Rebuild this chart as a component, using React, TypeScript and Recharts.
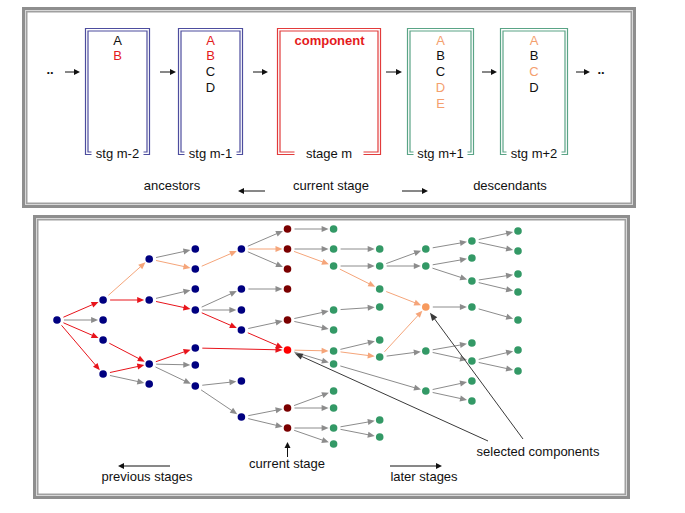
import React from 'react';
import { ScatterChart, Scatter, XAxis, YAxis, ReferenceLine, ReferenceArea, ReferenceDot } from 'recharts';

const FONT = '"Liberation Sans", Arial, Helvetica, sans-serif';
const W = 685;
const H = 513;

// upper panel: one box per stage
const stageNames = ['stg m-2', 'stg m-1', 'stage m', 'stg m+1', 'stg m+2'];
const stageRoles = ['anc', 'anc', 'cur', 'des', 'des'];
const stageComponents = [['A', 'B'], ['A', 'B', 'C', 'D'], ['component'], ['A', 'B', 'C', 'D', 'E'], ['A', 'B', 'C', 'D']];
const stageSelected = [[1], [0, 1], [0], [0, 3, 4], [0, 2]];
const upperCaptions = ['ancestors', 'current stage', 'descendants'];

// lower panel: y of every component, one list per stage (column)
const stageRows: number[][] = [
  [320],
  [300, 320, 340, 374],
  [259, 300, 364, 384],
  [249, 269, 289, 310, 348, 365, 386],
  [249, 289, 310, 330, 381, 417],
  [229, 249, 269, 289, 320, 350, 408, 428],
  [229, 249, 266, 310, 330, 351, 364, 391, 408, 428, 444],
  [249, 266, 289, 307, 340, 357, 420, 437],
  [249, 266, 307, 351, 391],
  [241, 258, 281, 307, 343, 361, 381, 401],
  [231, 251, 274, 292, 320, 350, 371],
];
const currentStage = 5;
const currentComponent = 5;
const pickedStage = 8;
const pickedComponent = 2;

// [fromStage, fromIndex, toStage, toIndex, kind]  g = plain, r = ancestor path, o = descendant path
const links: [number, number, number, number, string][] = [
  [0, 0, 1, 0, 'r'], [0, 0, 1, 1, 'g'], [0, 0, 1, 2, 'r'], [0, 0, 1, 3, 'r'],
  [1, 0, 2, 0, 'o'], [1, 0, 2, 1, 'r'], [1, 2, 2, 2, 'r'], [1, 3, 2, 2, 'r'], [1, 3, 2, 3, 'g'],
  [2, 0, 3, 0, 'g'], [2, 0, 3, 1, 'o'], [2, 1, 3, 2, 'g'], [2, 1, 3, 3, 'r'],
  [2, 2, 3, 4, 'r'], [2, 2, 3, 5, 'g'], [2, 2, 3, 6, 'g'],
  [3, 1, 4, 0, 'o'], [3, 3, 4, 1, 'g'], [3, 3, 4, 2, 'g'], [3, 3, 4, 3, 'r'],
  [3, 6, 4, 4, 'g'], [3, 6, 4, 5, 'g'], [3, 4, 5, 5, 'r'],
  [4, 0, 5, 0, 'g'], [4, 0, 5, 1, 'o'], [4, 0, 5, 2, 'g'], [4, 1, 5, 3, 'g'],
  [4, 3, 5, 4, 'g'], [4, 3, 5, 5, 'r'], [4, 5, 5, 6, 'g'], [4, 5, 5, 7, 'g'],
  [5, 0, 6, 0, 'g'], [5, 1, 6, 1, 'g'], [5, 1, 6, 2, 'o'], [5, 4, 6, 3, 'g'], [5, 4, 6, 4, 'g'],
  [5, 5, 6, 5, 'o'], [5, 5, 6, 6, 'g'], [5, 6, 6, 7, 'g'], [5, 6, 6, 8, 'g'], [5, 7, 6, 9, 'g'], [5, 7, 6, 10, 'g'],
  [6, 1, 7, 0, 'g'], [6, 2, 7, 1, 'g'], [6, 2, 7, 2, 'o'], [6, 3, 7, 3, 'g'],
  [6, 5, 7, 4, 'g'], [6, 5, 7, 5, 'o'], [6, 9, 7, 6, 'g'], [6, 9, 7, 7, 'g'], [6, 6, 8, 4, 'g'],
  [7, 1, 8, 0, 'g'], [7, 1, 8, 1, 'g'], [7, 2, 8, 2, 'o'], [7, 5, 8, 2, 'o'], [7, 5, 8, 3, 'g'],
  [8, 0, 9, 0, 'g'], [8, 1, 9, 1, 'g'], [8, 1, 9, 2, 'g'], [8, 2, 9, 3, 'g'],
  [8, 3, 9, 4, 'g'], [8, 3, 9, 5, 'g'], [8, 4, 9, 6, 'g'], [8, 4, 9, 7, 'g'],
  [9, 0, 10, 0, 'g'], [9, 0, 10, 1, 'g'], [9, 2, 10, 2, 'g'], [9, 2, 10, 3, 'g'],
  [9, 3, 10, 4, 'g'], [9, 5, 10, 5, 'g'], [9, 5, 10, 6, 'g'],
];
const lowerCaptions = ['previous stages', 'current stage', 'later stages', 'selected components'];

const NODE_COLORS: Record<string, string> = { anc: '#000080', cur: '#7a0000', sel: '#ff0000', des: '#339966', pick: '#f79a5e' };
const LINK_COLORS: Record<string, string> = { g: '#8c8c8c', r: '#e8141b', o: '#f5a57a' };
const BOX_COLORS: Record<string, string> = { anc: '#4d4d9e', cur: '#e23b3b', des: '#5aa486' };
const MARK_COLORS: Record<string, string> = { anc: '#e41a1c', cur: '#e41a1c', des: '#f4a06e' };

// stage axis calibration (column 0 at 57px, 46.1px apart)
const STAGE_X0 = 57;
const STAGE_DX = 46.1;
const pxToStage = (px: number) => (px - STAGE_X0) / STAGE_DX;

const BOX_LEFT = [85, 178, 277, 407, 500];
const BOX_RIGHT = [150, 243, 381, 474, 568];
const BOX_TAB = [6, 6, 17, 6, 6];

const kindOf = (stage: number, idx: number) => {
  if (stage === currentStage && idx === currentComponent) return 'sel';
  if (stage === pickedStage && idx === pickedComponent) return 'pick';
  if (stage < currentStage) return 'anc';
  if (stage === currentStage) return 'cur';
  return 'des';
};

const arrow = (color: string, cut0: number, cut1: number, head = 7, half = 3, width = 1) => (p: any) => {
  const { x1, y1, x2, y2 } = p;
  const dx = x2 - x1;
  const dy = y2 - y1;
  const len = Math.hypot(dx, dy) || 1;
  const ux = dx / len;
  const uy = dy / len;
  const sx = x1 + ux * cut0;
  const sy = y1 + uy * cut0;
  const tx = x2 - ux * cut1;
  const ty = y2 - uy * cut1;
  const bx = tx - ux * head;
  const by = ty - uy * head;
  return (
    <g>
      <line x1={sx} y1={sy} x2={bx + ux} y2={by + uy} stroke={color} strokeWidth={width} />
      <polygon
        points={`${tx},${ty} ${bx - uy * half},${by + ux * half} ${bx + uy * half},${by - ux * half}`}
        fill={color}
      />
    </g>
  );
};

const frameShape = (p: any) => {
  const { x, y, width: w, height: h } = p;
  return (
    <g fill="none">
      <rect x={x + 1.5} y={y + 1.5} width={w - 3} height={h - 3} stroke="#8e8e8e" strokeWidth={3} />
      <rect x={x + 3.5} y={y + 3.5} width={w - 7} height={h - 7} stroke="#d8d8d8" strokeWidth={1} />
      <rect x={x + 4.75} y={y + 4.75} width={w - 9.5} height={h - 9.5} stroke="#a0a0a0" strokeWidth={1.5} />
    </g>
  );
};

const bracketShape = (color: string, tab: number) => (p: any) => {
  const { x, y, width: w, height: h } = p;
  const l = x + 0.5;
  const r = x + w - 0.5;
  const t = y + 0.5;
  const b = y + h - 0.5;
  const g = 2.5;
  const outer = `M${l + tab},${b} L${l},${b} L${l},${t} L${r},${t} L${r},${b} L${r - tab},${b}`;
  const inner = `M${l + tab},${b - g} L${l + g},${b - g} L${l + g},${t + g} L${r - g},${t + g} L${r - g},${b - g} L${r - tab},${b - g}`;
  return (
    <g fill="none" stroke={color} strokeWidth={1.2}>
      <path d={outer} />
      <path d={inner} />
    </g>
  );
};

const textShape = (text: string, color = '#111', bold = false) => (p: any) => (
  <text x={p.cx} y={p.cy} textAnchor="middle" fill={color} fontSize={13} fontFamily={FONT} fontWeight={bold ? 'bold' : 'normal'}>
    {text}
  </text>
);

export default function App() {
  const nodes = stageRows.flatMap((rows, stage) => rows.map((y, idx) => ({ stage, y, idx, kind: kindOf(stage, idx) })));
  const kinds = ['anc', 'cur', 'sel', 'des', 'pick'];

  const topArrows: [number, number][] = [[65, 80], [160, 176], [253, 268], [386, 402], [482, 497], [576, 590]];

  return (
    <div style={{ position: 'absolute', left: 0, top: 0, width: W, height: H, background: '#fff' }}>
      <ScatterChart width={W} height={H} margin={{ top: 0, right: 0, bottom: 0, left: 0 }}>
        <XAxis xAxisId="px" type="number" dataKey="px" domain={[0, W]} allowDataOverflow hide />
        <XAxis
          xAxisId="stage"
          type="number"
          dataKey="stage"
          domain={[pxToStage(0), pxToStage(W)]}
          allowDataOverflow
          hide
        />
        <YAxis type="number" dataKey="y" domain={[0, H]} reversed allowDataOverflow hide />

        {/* panel frames */}
        <ReferenceArea xAxisId="px" x1={22} x2={636} y1={7} y2={208} ifOverflow="visible" shape={frameShape} />
        <ReferenceArea xAxisId="px" x1={33} x2={630} y1={215} y2={499} ifOverflow="visible" shape={frameShape} />

        {/* upper panel: stage boxes */}
        {stageNames.map((name, i) => (
          <ReferenceArea
            key={`box-${i}`}
            xAxisId="px"
            x1={BOX_LEFT[i]}
            x2={BOX_RIGHT[i]}
            y1={28}
            y2={155}
            ifOverflow="visible"
            shape={bracketShape(BOX_COLORS[stageRoles[i]], BOX_TAB[i])}
          />
        ))}
        {stageNames.map((name, i) => (
          <ReferenceDot
            key={`boxlabel-${i}`}
            xAxisId="px"
            x={(BOX_LEFT[i] + BOX_RIGHT[i]) / 2}
            y={158}
            ifOverflow="visible"
            shape={textShape(name)}
          />
        ))}
        {stageComponents.flatMap((items, i) =>
          items.map((item, j) => {
            const marked = stageSelected[i].includes(j);
            return (
              <ReferenceDot
                key={`item-${i}-${j}`}
                xAxisId="px"
                x={(BOX_LEFT[i] + BOX_RIGHT[i]) / 2 + (stageRoles[i] === 'cur' ? 0.5 : 0)}
                y={44.5 + 15.8 * j}
                ifOverflow="visible"
                shape={textShape(item, marked ? MARK_COLORS[stageRoles[i]] : '#111', stageRoles[i] === 'cur')}
              />
            );
          })
        )}
        {topArrows.map(([a, b], i) => (
          <ReferenceLine
            key={`ta-${i}`}
            xAxisId="px"
            segment={[{ x: a, y: 72 }, { x: b, y: 72 }]}
            ifOverflow="visible"
            shape={arrow('#111', 0, 0, 6, 3)}
          />
        ))}
        <ReferenceDot xAxisId="px" x={50} y={74} ifOverflow="visible" shape={textShape('..', '#111', true)} />
        <ReferenceDot xAxisId="px" x={601} y={74} ifOverflow="visible" shape={textShape('..', '#111', true)} />
        <ReferenceDot xAxisId="px" x={172} y={190} ifOverflow="visible" shape={textShape(upperCaptions[0])} />
        <ReferenceDot xAxisId="px" x={331} y={190} ifOverflow="visible" shape={textShape(upperCaptions[1])} />
        <ReferenceDot xAxisId="px" x={510} y={190} ifOverflow="visible" shape={textShape(upperCaptions[2])} />
        <ReferenceLine
          xAxisId="px"
          segment={[{ x: 265, y: 191 }, { x: 238, y: 191 }]}
          ifOverflow="visible"
          shape={arrow('#111', 0, 0, 6, 3)}
        />
        <ReferenceLine
          xAxisId="px"
          segment={[{ x: 402, y: 191 }, { x: 428, y: 191 }]}
          ifOverflow="visible"
          shape={arrow('#111', 0, 0, 6, 3)}
        />

        {/* lower panel: links between components */}
        {links.map(([s1, i1, s2, i2, k], i) => (
          <ReferenceLine
            key={`link-${i}`}
            xAxisId="stage"
            segment={[{ x: s1, y: stageRows[s1][i1] }, { x: s2, y: stageRows[s2][i2] }]}
            ifOverflow="visible"
            shape={arrow(LINK_COLORS[k], 7, 5, 7, 3)}
          />
        ))}

        {/* annotations */}
        <ReferenceLine
          xAxisId="stage"
          segment={[{ x: pxToStage(488), y: 441 }, { x: currentStage, y: stageRows[currentStage][currentComponent] }]}
          ifOverflow="visible"
          shape={arrow('#3a3a3a', 0, 8, 8, 3.2)}
        />
        <ReferenceLine
          xAxisId="stage"
          segment={[{ x: pxToStage(523), y: 439 }, { x: pickedStage, y: stageRows[pickedStage][pickedComponent] }]}
          ifOverflow="visible"
          shape={arrow('#3a3a3a', 0, 7, 8, 3.2)}
        />
        <ReferenceLine
          xAxisId="stage"
          segment={[{ x: currentStage, y: 457 }, { x: currentStage, y: 442 }]}
          ifOverflow="visible"
          shape={arrow('#111', 0, 0, 6, 3)}
        />
        <ReferenceLine
          xAxisId="px"
          segment={[{ x: 170, y: 466 }, { x: 118, y: 466 }]}
          ifOverflow="visible"
          shape={arrow('#111', 0, 0, 6, 3)}
        />
        <ReferenceLine
          xAxisId="px"
          segment={[{ x: 390, y: 466 }, { x: 442, y: 466 }]}
          ifOverflow="visible"
          shape={arrow('#111', 0, 0, 6, 3)}
        />
        <ReferenceDot xAxisId="px" x={147} y={481} ifOverflow="visible" shape={textShape(lowerCaptions[0])} />
        <ReferenceDot xAxisId="px" x={287} y={468} ifOverflow="visible" shape={textShape(lowerCaptions[1])} />
        <ReferenceDot xAxisId="px" x={424} y={481} ifOverflow="visible" shape={textShape(lowerCaptions[2])} />
        <ReferenceDot xAxisId="px" x={538} y={456} ifOverflow="visible" shape={textShape(lowerCaptions[3])} />

        {/* lower panel: components */}
        {kinds.map((k) => (
          <Scatter
            key={k}
            xAxisId="stage"
            data={nodes.filter((n) => n.kind === k)}
            isAnimationActive={false}
            shape={(p: any) => <circle cx={p.cx} cy={p.cy} r={3.8} fill={NODE_COLORS[k]} />}
          />
        ))}
      </ScatterChart>
    </div>
  );
}
